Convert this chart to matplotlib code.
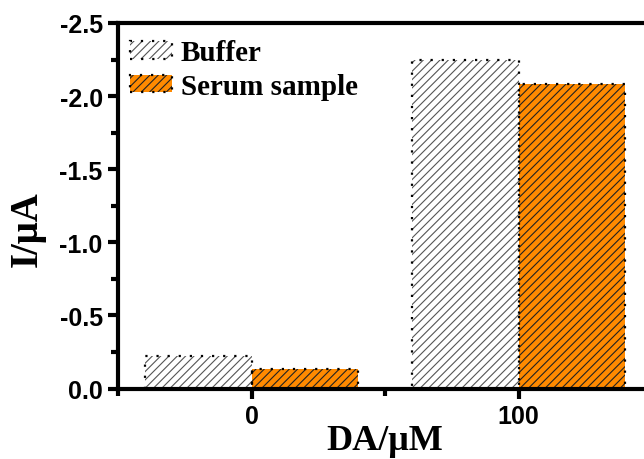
import matplotlib
matplotlib.use("Agg")
import matplotlib.pyplot as plt
import numpy as np
from matplotlib.patches import Patch

categories = ["0", "100"]
buffer_vals = [-0.22, -2.25]
serum_vals = [-0.13, -2.08]

plt.rcParams['hatch.linewidth'] = 0.8

fig = plt.figure(figsize=(6.44, 4.60), dpi=100)
W, H = 644, 460
left, right, top, bottom = 118, 652, 24, 389.5
ax = fig.add_axes([left / W, 1 - bottom / H, (right - left) / W, (bottom - top) / H])

x = np.arange(len(categories))
bw = 0.4
orange = "#FF8A00"
dot = (0, (1, 4))

ax.bar(x - bw / 2, buffer_vals, bw, color="white", edgecolor="#555555", hatch="////", linewidth=0, zorder=2)
ax.bar(x - bw / 2, buffer_vals, bw, fill=False, edgecolor="black", linestyle=dot, linewidth=1.6, zorder=3)
ax.bar(x + bw / 2, serum_vals, bw, color=orange, edgecolor="#222222", hatch="////", linewidth=0, zorder=2)
ax.bar(x + bw / 2, serum_vals, bw, fill=False, edgecolor="black", linestyle=dot, linewidth=1.6, zorder=3)

ax.set_xlim(-0.5, 1.5)
ax.set_ylim(0, -2.5)
ax.set_xticks(x)
ax.set_xticklabels(categories)
ax.set_xticks([-0.5, 0.5, 1.5], minor=True)
yt = np.arange(0, -2.51, -0.5)
ax.set_yticks(yt)
ax.set_yticklabels(["0.0" if v == 0 else f"{v:.1f}" for v in yt])
ax.set_yticks(np.arange(-0.25, -2.5, -0.5), minor=True)

for s in ax.spines.values():
    s.set_linewidth(3)
ax.tick_params(which="major", direction="out", length=7, width=3, pad=4)
ax.tick_params(which="minor", direction="out", length=5, width=3)
for lab in ax.get_xticklabels() + ax.get_yticklabels():
    lab.set_fontfamily("Liberation Sans")
    lab.set_fontweight("bold")
    lab.set_fontsize(18)

ax.set_xlabel("DA/μM", fontfamily="Liberation Serif", fontweight="bold", fontsize=26, labelpad=-3)
ax.set_ylabel("I/μA", fontfamily="Liberation Serif", fontweight="bold", fontsize=28)
ax.yaxis.set_label_coords(-0.135, 0.44)

h1 = (Patch(facecolor="white", edgecolor="#555555", hatch="////", linewidth=0),
      Patch(fill=False, edgecolor="black", linestyle=dot, linewidth=1.6))
h2 = (Patch(facecolor=orange, edgecolor="#222222", hatch="////", linewidth=0),
      Patch(fill=False, edgecolor="black", linestyle=dot, linewidth=1.6))
leg = ax.legend([h1, h2], ["Buffer", "Serum sample"], loc="upper left", frameon=False,
                prop={"family": "Liberation Serif", "weight": "bold", "size": 21},
                handlelength=1.45, handleheight=0.55, handletextpad=0.3, labelspacing=0.22,
                borderaxespad=0.0, borderpad=0.0, bbox_to_anchor=(0.022, 0.955))

fig.savefig("out.png", dpi=100)
